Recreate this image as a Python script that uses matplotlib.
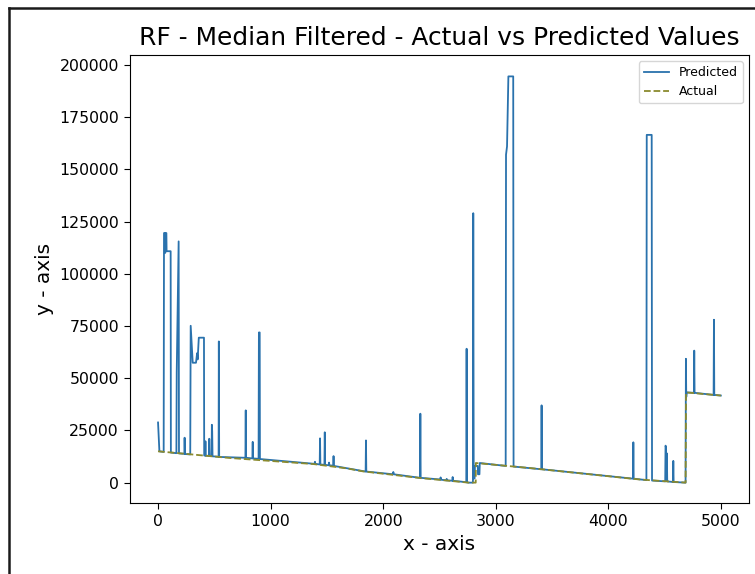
import numpy as np
import matplotlib
matplotlib.use('Agg')
import matplotlib.pyplot as plt
from matplotlib.lines import Line2D

# Actual values (breakpoints of the piecewise line)
act_x = [0, 640, 1380, 1680, 1820, 2330, 2760, 2822, 2823, 3300, 4280, 4686, 4690, 4999]
act_y = [15000, 11800, 8900, 6800, 5400, 2200, 0, 0, 9400, 7000, 1500, 0, 43200, 41700]

# Predicted values (vertices)
pred_x = [0, 12,
          50, 53, 62, 64, 67, 74, 76, 112, 114,
          163, 166, 183, 186,
          234, 236, 239,
          286, 290, 308, 337, 347, 352, 362, 408, 410,
          418, 421, 424,
          452, 455, 459, 476, 478, 481, 484,
          538, 540, 543,
          776, 779, 781,
          838, 841, 843,
          893, 896, 903, 905,
          1390, 1394, 1397,
          1436, 1439, 1442,
          1478, 1481, 1484,
          1516, 1519, 1522,
          1556, 1559, 1562,
          1844, 1847, 1850,
          2088, 2090, 2093,
          2327, 2330, 2333,
          2508, 2510, 2513,
          2562, 2564, 2567,
          2614, 2617, 2620,
          2738, 2741, 2744, 2760,
          2797, 2800, 2804, 2812, 2815, 2840, 2842, 2855, 2858,
          3088, 3091, 3100, 3112, 3155, 3158,
          3404, 3407, 3410,
          4219, 4222, 4225,
          4338, 4341, 4385, 4388,
          4505, 4508, 4512, 4514, 4520, 4523,
          4574, 4577, 4580,
          4686, 4689, 4692, 4696,
          4760, 4763, 4766,
          4935, 4938, 4941, 4999]
pred_y = [28800, 15000,
          14700, 119500, 119500, 110000, 119500, 119500, 110800, 110800, 14400,
          14100, 53000, 115500, 14000,
          13800, 21500, 13700,
          13500, 75100, 57400, 57400, 62000, 59000, 69400, 69400, 13000,
          12900, 19800, 12900,
          12800, 21000, 12700, 12700, 27700, 24500, 12600,
          12400, 67600, 12300,
          11900, 34600, 11900,
          11600, 19500, 11600,
          11400, 71900, 71900, 11300,
          9000, 10000, 9000,
          8700, 21200, 8700,
          8500, 24100, 8500,
          8300, 9600, 8300,
          8100, 12700, 8000,
          5300, 20200, 5300,
          4000, 5100, 4000,
          2300, 33000, 2300,
          1500, 2500, 1400,
          1100, 1800, 1100,
          900, 2700, 900,
          200, 64100, 100, 0,
          0, 129000, 2000, 2000, 8000, 8000, 4000, 4000, 9400,
          8000, 157000, 161000, 194500, 194500, 7700,
          6400, 37000, 6400,
          1900, 19300, 1900,
          1200, 166500, 166500, 1000,
          600, 17700, 17000, 1000, 14000, 600,
          300, 10400, 300,
          0, 59300, 41000, 43200,
          43000, 63200, 43000,
          42000, 78000, 42000, 41700]

x_ticks = [0, 1000, 2000, 3000, 4000, 5000]
y_ticks = [0, 25000, 50000, 75000, 100000, 125000, 150000, 175000, 200000]

fig = plt.figure(figsize=(7.55, 5.74), dpi=100)
ax = fig.add_axes([0.1722, 0.1237, 0.8198, 0.7805])

ax.plot(pred_x, pred_y, color='#2a72ad', lw=1.3, label='Predicted')
ax.plot(act_x, act_y, color='#8a8a2e', lw=1.3, ls='--', label='Actual')

ax.set_xlim(-249, 5249)
ax.set_ylim(-9750, 204750)
ax.set_xticks(x_ticks)
ax.set_yticks(y_ticks)
ax.tick_params(labelsize=11.3, length=4.5)

ax.set_title('RF - Median Filtered - Actual vs Predicted Values', fontsize=17.9, pad=7)
ax.set_xlabel('x - axis', fontsize=14.5)
ax.set_ylabel('y - axis', fontsize=14.5)
ax.legend(loc='upper right', fontsize=9)

# frame of the screenshot
fig.add_artist(Line2D([9/755, 9/755], [0, 1-8/574], color='#1a1a1a', lw=1.8))
fig.add_artist(Line2D([9/755, 1], [1-8/574, 1-8/574], color='#1a1a1a', lw=1.8))

plt.savefig('out.png', dpi=100)
plt.close('all')
